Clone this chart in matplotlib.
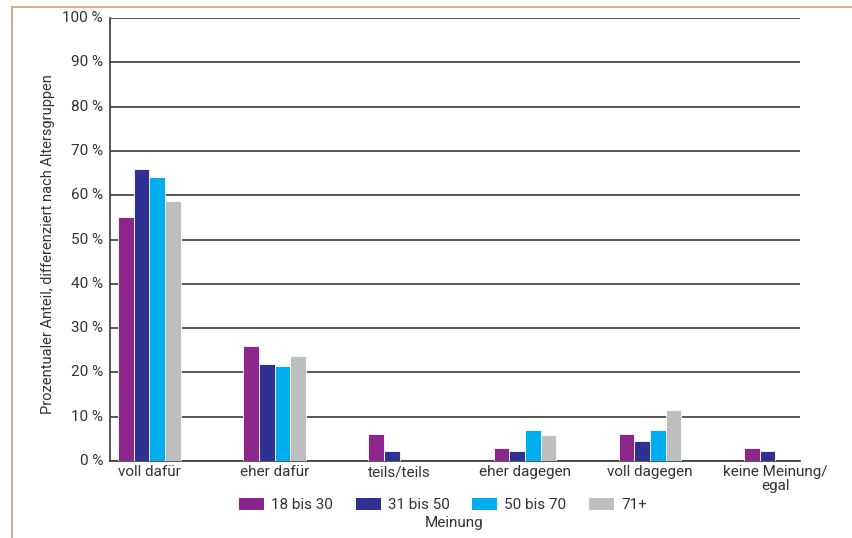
import matplotlib
matplotlib.use("Agg")
import matplotlib.pyplot as plt
import numpy as np
from matplotlib.patches import Patch
from matplotlib.lines import Line2D

categories = ["voll dafür", "eher dafür", "teils/teils", "eher dagegen", "voll dagegen", "keine Meinung/\negal"]
series_names = ["18 bis 30", "31 bis 50", "50 bis 70", "71+"]
v_18_30 = [55, 26, 6.2, 3.0, 6.2, 3.0]
v_31_50 = [66, 22, 2.3, 2.3, 4.6, 2.3]
v_50_70 = [64.2, 21.5, 0, 6.9, 6.9, 0]
v_71 = [58.7, 23.6, 0, 5.9, 11.6, 0]
yticks = [0, 10, 20, 30, 40, 50, 60, 70, 80, 90, 100]
ytick_labels = [f"{t} %" for t in yticks]

colors = ["#8C268C", "#2E3192", "#00AEEF", "#BDBEC0"]
text_color = "#333333"

plt.rcParams['font.family'] = ['Roboto', 'DejaVu Sans']
fs = 11

fig = plt.figure(figsize=(8.52, 5.38), dpi=100)
ax = fig.add_axes([110/852, 1-461/538, (800-110)/852, (461-18)/538])

x = np.arange(len(categories))
w = 0.125
for j, (vals, name) in enumerate(zip([v_18_30, v_31_50, v_50_70, v_71], series_names)):
    ax.bar(x + (j - 1.5) * w, vals, width=w, color=colors[j], edgecolor="white",
           linewidth=0.6, zorder=3, label=name)

ax.set_xlim(-0.314, 5.197)
ax.set_ylim(0, 100)
ax.set_yticks(yticks)
ax.set_yticklabels(ytick_labels, fontsize=fs, color=text_color)
ax.set_xticks(x)
ax.set_xticklabels(categories, fontsize=fs, color=text_color, linespacing=1.0)
ax.tick_params(axis='both', length=0)
ax.tick_params(axis='y', pad=5)
ax.tick_params(axis='x', pad=3)
for t in ax.get_yticklabels():
    t.set_verticalalignment('center')

ax.grid(axis='y', color="#3a3a3a", linewidth=1.2, zorder=0)
ax.set_axisbelow(True)
for s in ["top", "right"]:
    ax.spines[s].set_visible(False)
ax.spines["left"].set_color("#3a3a3a")
ax.spines["left"].set_linewidth(1.2)
ax.spines["bottom"].set_color("#3a3a3a")
ax.spines["bottom"].set_linewidth(1.2)

ax.set_ylabel("Prozentualer Anteil, differenziert nach Altersgruppen", fontsize=10.5,
              color=text_color)
ax.yaxis.set_label_coords(-0.08, 0.49)

handles = [Patch(facecolor=c, edgecolor='none') for c in colors]
fig.legend(handles, series_names, loc='center', bbox_to_anchor=(443/852, 1-505/538),
           ncol=4, frameon=False, fontsize=fs, handlelength=1.63, handleheight=0.82,
           columnspacing=1.5, handletextpad=0.45, labelcolor=text_color,
           borderpad=0.2)

fig.text(454/852, 1-523/538, "Meinung", ha='center', va='center', fontsize=fs, color=text_color)

# frame lines (top and left)
border_color = "#D9A27E"
fig.add_artist(Line2D([12/852, 12/852], [0, 1-7/538], transform=fig.transFigure,
                      color=border_color, linewidth=1.3))
fig.add_artist(Line2D([12/852, 1], [1-7/538, 1-7/538], transform=fig.transFigure,
                      color=border_color, linewidth=1.3))

fig.savefig("out.png", dpi=100)
